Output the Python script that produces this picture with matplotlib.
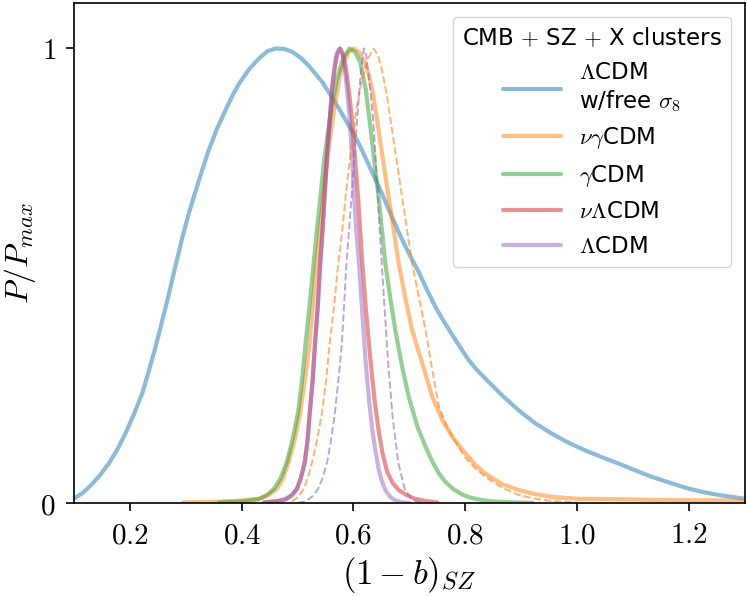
import matplotlib
matplotlib.use("Agg")
import matplotlib.pyplot as plt

plt.rcParams['mathtext.fontset'] = 'cm'
plt.rcParams['font.family'] = ['DejaVu Sans']

# values: (1-b)_SZ and P/P_max
lcdm_free_x = [0.100, 0.117, 0.133, 0.148, 0.162, 0.177, 0.192, 0.207, 0.222, 0.234,
               0.246, 0.258, 0.270, 0.282, 0.294, 0.306, 0.318, 0.330, 0.341, 0.356,
               0.371, 0.383, 0.395, 0.413, 0.431, 0.446, 0.461, 0.476, 0.490, 0.505,
               0.520, 0.545, 0.574, 0.592, 0.610, 0.630, 0.651, 0.668, 0.685, 0.701,
               0.717, 0.732, 0.747, 0.762, 0.777, 0.792, 0.806, 0.821, 0.836, 0.866,
               0.896, 0.925, 0.955, 0.985, 1.015, 1.045, 1.075, 1.105, 1.134, 1.164,
               1.194, 1.224, 1.254, 1.277, 1.300]
lcdm_free_y = [0.010, 0.024, 0.043, 0.064, 0.087, 0.117, 0.153, 0.195, 0.241, 0.291,
               0.344, 0.402, 0.461, 0.524, 0.585, 0.640, 0.688, 0.735, 0.776, 0.824,
               0.864, 0.895, 0.922, 0.954, 0.978, 0.994, 1.000, 0.999, 0.993, 0.980,
               0.962, 0.925, 0.868, 0.830, 0.790, 0.737, 0.681, 0.632, 0.585, 0.545,
               0.508, 0.468, 0.431, 0.399, 0.370, 0.341, 0.315, 0.293, 0.274, 0.237,
               0.204, 0.176, 0.153, 0.133, 0.116, 0.101, 0.087, 0.072, 0.058, 0.046,
               0.034, 0.025, 0.018, 0.014, 0.010]

nugamma_x = [0.295, 0.350, 0.400, 0.431, 0.448, 0.463, 0.474, 0.484, 0.495, 0.505,
             0.513, 0.521, 0.527, 0.533, 0.540, 0.547, 0.556, 0.566, 0.575, 0.583,
             0.592, 0.601, 0.610, 0.620, 0.628, 0.635, 0.645, 0.654, 0.663, 0.672,
             0.681, 0.693, 0.705, 0.720, 0.741, 0.760, 0.777, 0.800, 0.818, 0.836,
             0.866, 0.896, 0.925, 0.955, 1.000, 1.075, 1.150, 1.300]
nugamma_y = [0.002, 0.003, 0.006, 0.010, 0.018, 0.032, 0.055, 0.091, 0.140, 0.201,
             0.270, 0.347, 0.430, 0.518, 0.600, 0.688, 0.785, 0.871, 0.935, 0.970,
             0.993, 1.000, 0.992, 0.970, 0.940, 0.900, 0.820, 0.745, 0.673, 0.600,
             0.527, 0.450, 0.380, 0.320, 0.234, 0.180, 0.146, 0.110, 0.085, 0.065,
             0.042, 0.029, 0.020, 0.014, 0.010, 0.009, 0.007, 0.006]

gamma_x = [0.360, 0.400, 0.431, 0.445, 0.458, 0.470, 0.481, 0.491, 0.501, 0.508,
           0.514, 0.521, 0.528, 0.535, 0.542, 0.548, 0.555, 0.562, 0.570, 0.582,
           0.593, 0.603, 0.612, 0.622, 0.631, 0.638, 0.645, 0.651, 0.657, 0.666,
           0.675, 0.687, 0.699, 0.714, 0.729, 0.741, 0.753, 0.766, 0.780, 0.795,
           0.810, 0.830, 0.850, 0.885, 0.920]
gamma_y = [0.002, 0.004, 0.009, 0.018, 0.032, 0.056, 0.091, 0.140, 0.201, 0.270,
           0.347, 0.430, 0.518, 0.605, 0.688, 0.760, 0.820, 0.880, 0.930, 0.980,
           1.000, 0.992, 0.970, 0.910, 0.820, 0.745, 0.673, 0.600, 0.527, 0.450,
           0.380, 0.300, 0.234, 0.170, 0.124, 0.092, 0.065, 0.045, 0.030, 0.019,
           0.012, 0.007, 0.004, 0.002, 0.001]

nulcdm_x = [0.440, 0.465, 0.479, 0.490, 0.499, 0.506, 0.513, 0.518, 0.522, 0.527,
            0.531, 0.536, 0.540, 0.545, 0.549, 0.553, 0.558, 0.562, 0.567, 0.571,
            0.576, 0.581, 0.586, 0.591, 0.597, 0.602, 0.608, 0.612, 0.616, 0.623,
            0.631, 0.638, 0.645, 0.652, 0.660, 0.670, 0.681, 0.695, 0.710, 0.730,
            0.750]
nulcdm_y = [0.002, 0.005, 0.009, 0.018, 0.032, 0.056, 0.091, 0.140, 0.201, 0.270,
            0.347, 0.430, 0.518, 0.605, 0.688, 0.770, 0.850, 0.915, 0.960, 0.988,
            1.000, 0.988, 0.960, 0.915, 0.850, 0.770, 0.677, 0.600, 0.527, 0.415,
            0.307, 0.225, 0.160, 0.110, 0.070, 0.045, 0.029, 0.018, 0.010, 0.005,
            0.002]

lcdm_x = [0.440, 0.465, 0.479, 0.490, 0.499, 0.506, 0.513, 0.518, 0.522, 0.527,
          0.531, 0.536, 0.540, 0.545, 0.549, 0.553, 0.558, 0.562, 0.566, 0.570,
          0.575, 0.580, 0.584, 0.588, 0.593, 0.597, 0.601, 0.605, 0.610, 0.616,
          0.622, 0.628, 0.634, 0.640, 0.645, 0.651, 0.657, 0.665, 0.675, 0.688,
          0.700]
lcdm_y = [0.002, 0.005, 0.009, 0.018, 0.032, 0.056, 0.091, 0.140, 0.201, 0.270,
          0.347, 0.430, 0.518, 0.605, 0.688, 0.770, 0.850, 0.915, 0.960, 0.988,
          1.000, 0.988, 0.960, 0.915, 0.850, 0.770, 0.677, 0.600, 0.527, 0.415,
          0.307, 0.225, 0.160, 0.110, 0.075, 0.048, 0.029, 0.015, 0.006, 0.002,
          0.001]

# dashed curves, no legend entry
nugamma_d_x = [0.490, 0.502, 0.511, 0.519, 0.526, 0.535, 0.544, 0.551, 0.557, 0.565,
               0.572, 0.580, 0.587, 0.594, 0.600, 0.607, 0.615, 0.625, 0.636, 0.644,
               0.651, 0.660, 0.669, 0.678, 0.687, 0.696, 0.705, 0.717, 0.729, 0.740,
               0.753, 0.765, 0.777, 0.800, 0.818, 0.836, 0.866, 0.896, 0.925, 0.955,
               1.000]
nugamma_d_y = [0.004, 0.015, 0.032, 0.058, 0.091, 0.140, 0.201, 0.270, 0.347, 0.430,
               0.518, 0.600, 0.688, 0.760, 0.820, 0.880, 0.930, 0.975, 1.000, 0.985,
               0.952, 0.895, 0.820, 0.748, 0.673, 0.600, 0.527, 0.453, 0.380, 0.300,
               0.212, 0.175, 0.146, 0.100, 0.077, 0.058, 0.034, 0.018, 0.010, 0.005,
               0.002]

lcdm_d_x = [0.500, 0.512, 0.520, 0.529, 0.537, 0.545, 0.553, 0.560, 0.567, 0.573,
            0.579, 0.583, 0.587, 0.592, 0.597, 0.602, 0.607, 0.612, 0.616, 0.619,
            0.623, 0.626, 0.631, 0.636, 0.640, 0.647, 0.654, 0.662, 0.670, 0.680,
            0.692, 0.705, 0.720]
lcdm_d_y = [0.001, 0.004, 0.009, 0.018, 0.032, 0.056, 0.091, 0.140, 0.201, 0.270,
            0.347, 0.430, 0.518, 0.600, 0.680, 0.770, 0.850, 0.930, 0.980, 1.000,
            0.985, 0.950, 0.900, 0.830, 0.750, 0.600, 0.460, 0.310, 0.190, 0.090,
            0.030, 0.008, 0.001]

labels = [r'$\Lambda$CDM' + '\n' + r'w/free $\sigma_8$', r'$\nu\gamma$CDM',
          r'$\gamma$CDM', r'$\nu\Lambda$CDM', r'$\Lambda$CDM']
xticks = [0.2, 0.4, 0.6, 0.8, 1.0, 1.2]

fig = plt.figure(figsize=(7.47, 5.97), dpi=100)
ax = fig.add_axes([0.099, 0.157, 0.898, 0.838])

lw = 3.0
kw = dict(alpha=0.5, lw=lw, solid_joinstyle='round', solid_capstyle='round')
ax.plot(lcdm_free_x, lcdm_free_y, color='tab:blue', label=labels[0], **kw)
ax.plot(nugamma_x, nugamma_y, color='tab:orange', label=labels[1], **kw)
ax.plot(gamma_x, gamma_y, color='tab:green', label=labels[2], **kw)
ax.plot(nulcdm_x, nulcdm_y, color='tab:red', label=labels[3], **kw)
ax.plot(lcdm_x, lcdm_y, color='tab:purple', label=labels[4], **kw)
ax.plot(nugamma_d_x, nugamma_d_y, color='tab:orange', alpha=0.6, lw=1.4, ls='--')
ax.plot(lcdm_d_x, lcdm_d_y, color='tab:purple', alpha=0.6, lw=1.4, ls='--')

ax.set_xlim(0.1, 1.3)
ax.set_ylim(0, 1.1)
ax.set_xticks(xticks, labels=[f'${t:.1f}$' for t in xticks])
ax.set_yticks([0, 1], labels=['$0$', '$1$'])
ax.tick_params(labelsize=21, length=6, width=1.2, pad=7)
for s in ax.spines.values():
    s.set_linewidth(1.2)

ax.set_xlabel(r'$(1-b)_{SZ}$', fontsize=25, labelpad=4)
ax.set_ylabel(r'$P/P_{max}$', fontsize=23, labelpad=2)

leg = ax.legend(title='CMB $+$ SZ $+$ X clusters', loc='upper right',
                fontsize=16.5, title_fontsize=16.5, handlelength=2.5,
                handletextpad=0.8, labelspacing=0.5, borderaxespad=0.6)

plt.savefig('out.png', dpi=100)
